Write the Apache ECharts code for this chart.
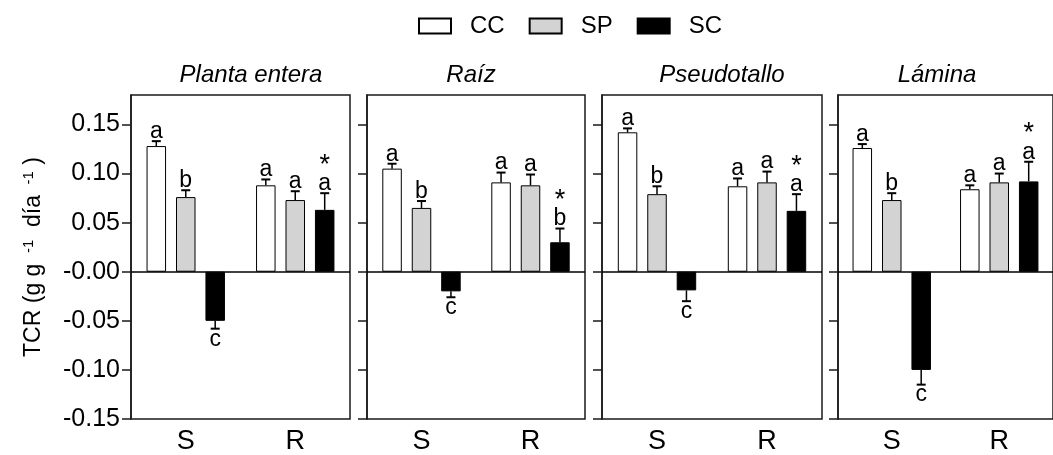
<!DOCTYPE html>
<html><head><meta charset="utf-8">
<script src="https://cdn.jsdelivr.net/npm/echarts@6/dist/echarts.min.js"></script>
<style>html,body{margin:0;padding:0;background:#fff}#c{width:1053px;height:455px}</style>
</head><body><div id="c"></div>
<script>
// ---------- data ----------
const panels = ['Planta entera', 'Raíz', 'Pseudotallo', 'Lámina'];
const categories = ['S', 'R'];
const seriesNames = ['CC', 'SP', 'SC'];
const yTickValues = [-0.15, -0.10, -0.05, 0, 0.05, 0.10, 0.15];
const yTickLabels = ['-0.15', '-0.10', '-0.05', '-0.00', '0.05', '0.10', '0.15'];
// values per panel: [S, R]
const ccValues = [[0.128, 0.088], [0.105, 0.091], [0.142, 0.087], [0.126, 0.084]];
const spValues = [[0.076, 0.073], [0.065, 0.088], [0.079, 0.091], [0.073, 0.091]];
const scValues = [[-0.050, 0.063], [-0.020, 0.030], [-0.019, 0.062], [-0.100, 0.092]];
const ccErrors = [[0.005, 0.006], [0.005, 0.010], [0.004, 0.008], [0.004, 0.004]];
const spErrors = [[0.007, 0.009], [0.007, 0.011], [0.008, 0.011], [0.007, 0.009]];
const scErrors = [[0.008, 0.017], [0.006, 0.014], [0.011, 0.017], [0.015, 0.020]];
const ccLetters = [['a', 'a'], ['a', 'a'], ['a', 'a'], ['a', 'a']];
const spLetters = [['b', 'a'], ['b', 'a'], ['b', 'a'], ['b', 'a']];
const scLetters = [['c', 'a'], ['c', 'b'], ['c', 'a'], ['c', 'a']];
const scStars = [[false, true], [false, true], [false, true], [false, true]];

// ---------- style ----------
const FONT = '"Liberation Sans", Arial, sans-serif';
const colors = ['#ffffff', '#d3d3d3', '#000000'];
const gridLeft = [131, 367, 602, 838];
const gridWidth = [219, 218, 220, 221];
const titleX = [251, 471, 722, 937];
const barW = 19.5, barGapRatio = 0.51;
const step = barW * (1 + barGapRatio);
const capW = 9;

const valuesBy = [ccValues, spValues, scValues];
const errorsBy = [ccErrors, spErrors, scErrors];
const lettersBy = [ccLetters, spLetters, scLetters];

function tickLabel(v) {
  const i = yTickValues.findIndex(t => Math.abs(t - v) < 1e-9);
  return i >= 0 ? yTickLabels[i] : '';
}

const grid = [], xAxis = [], yAxis = [], series = [], graphic = [];
panels.forEach((name, p) => {
  grid.push({left: gridLeft[p], width: gridWidth[p], top: 95, height: 325,
    show: true, borderColor: '#1a1a1a', borderWidth: 1.5, backgroundColor: 'transparent'});
  xAxis.push({type: 'category', gridIndex: p, data: categories,
    axisLine: {show: false}, axisTick: {show: false},
    axisLabel: {fontSize: 27, fontFamily: FONT, color: '#000', margin: 9}});
  yAxis.push({type: 'value', gridIndex: p, min: -0.15, max: 0.18,
    splitLine: {show: false},
    axisLine: {show: true, lineStyle: {color: '#1a1a1a', width: 1.5}},
    axisTick: {show: true, length: 9, customValues: yTickValues, lineStyle: {color: '#1a1a1a', width: 1.5}},
    axisLabel: {show: p === 0, customValues: yTickValues, formatter: tickLabel,
      fontSize: 25, fontFamily: FONT, color: '#000', margin: 11},
    name: p === 0 ? 'TCR (g g {sup| -1}  día {sup| -1} )' : '',
    nameLocation: 'middle', nameRotate: 90, nameGap: 84,
    nameTextStyle: {fontSize: 23, fontFamily: FONT, color: '#000', lineHeight: 26,
      rich: {sup: {fontSize: 15, fontFamily: FONT, color: '#000', verticalAlign: 'top', lineHeight: 15}}}
  });
  seriesNames.forEach((sn, s) => {
    const ser = {type: 'bar', name: sn, xAxisIndex: p, yAxisIndex: p,
      data: valuesBy[s][p], barWidth: barW, barGap: (barGapRatio * 100) + '%',
      itemStyle: {color: colors[s], borderColor: '#000', borderWidth: 1}, z: 2};
    if (s === 0) {
      ser.markLine = {silent: true, symbol: 'none', label: {show: false},
        lineStyle: {color: '#000', width: 1.5, type: 'solid'}, data: [{yAxis: 0}], z: 4};
    }
    series.push(ser);
  });
  const items = [];
  for (let s = 0; s < 3; s++) for (let c = 0; c < 2; c++) {
    items.push({c, s, v: valuesBy[s][p][c], e: errorsBy[s][p][c],
      letter: lettersBy[s][p][c], star: s === 2 && scStars[p][c]});
  }
  series.push({type: 'custom', xAxisIndex: p, yAxisIndex: p, z: 5, silent: true,
    data: items.map(it => [it.c, it.v, it.e, it.s]),
    encode: {x: 0, y: 1},
    renderItem: (params, api) => {
      const it = items[params.dataIndex];
      const sign = it.v >= 0 ? 1 : -1;
      const base = api.coord([it.c, it.v]);
      const tip = api.coord([it.c, it.v + sign * it.e]);
      const x = base[0] + (it.s - 1) * step;
      const ch = [
        {type: 'line', shape: {x1: x, y1: base[1], x2: x, y2: tip[1]}, style: {stroke: '#000', lineWidth: 1.5}},
        {type: 'line', shape: {x1: x - capW / 2, y1: tip[1], x2: x + capW / 2, y2: tip[1]}, style: {stroke: '#000', lineWidth: 2}},
        {type: 'text', style: {x: x, y: sign > 0 ? tip[1] + 2 : tip[1] - 1, text: it.letter,
          font: '23px ' + FONT, fill: '#000', textAlign: 'center', textVerticalAlign: sign > 0 ? 'bottom' : 'top'}}
      ];
      if (it.star) {
        ch.push({type: 'text', style: {x: x, y: tip[1] - 28, text: '*', font: '27px ' + FONT, fill: '#000',
          textAlign: 'center', textVerticalAlign: 'middle'}});
      }
      return {type: 'group', children: ch};
    }
  });
  graphic.push({type: 'text', x: titleX[p], y: 75, style: {text: name, font: 'italic 24px ' + FONT,
    fill: '#000', textAlign: 'center', textVerticalAlign: 'middle'}});
});

const chart = echarts.init(document.getElementById('c'), null, {renderer: 'canvas'});
chart.setOption({
  animation: false,
  backgroundColor: '#fff',
  legend: {data: seriesNames, left: 418, top: 14, padding: 0, icon: 'rect', itemWidth: 32, itemHeight: 15, itemGap: 24,
    textStyle: {fontSize: 24, fontFamily: FONT, color: '#000', padding: [0, 0, 0, 14]}},
  grid, xAxis, yAxis, series, graphic
});
</script></body></html>
